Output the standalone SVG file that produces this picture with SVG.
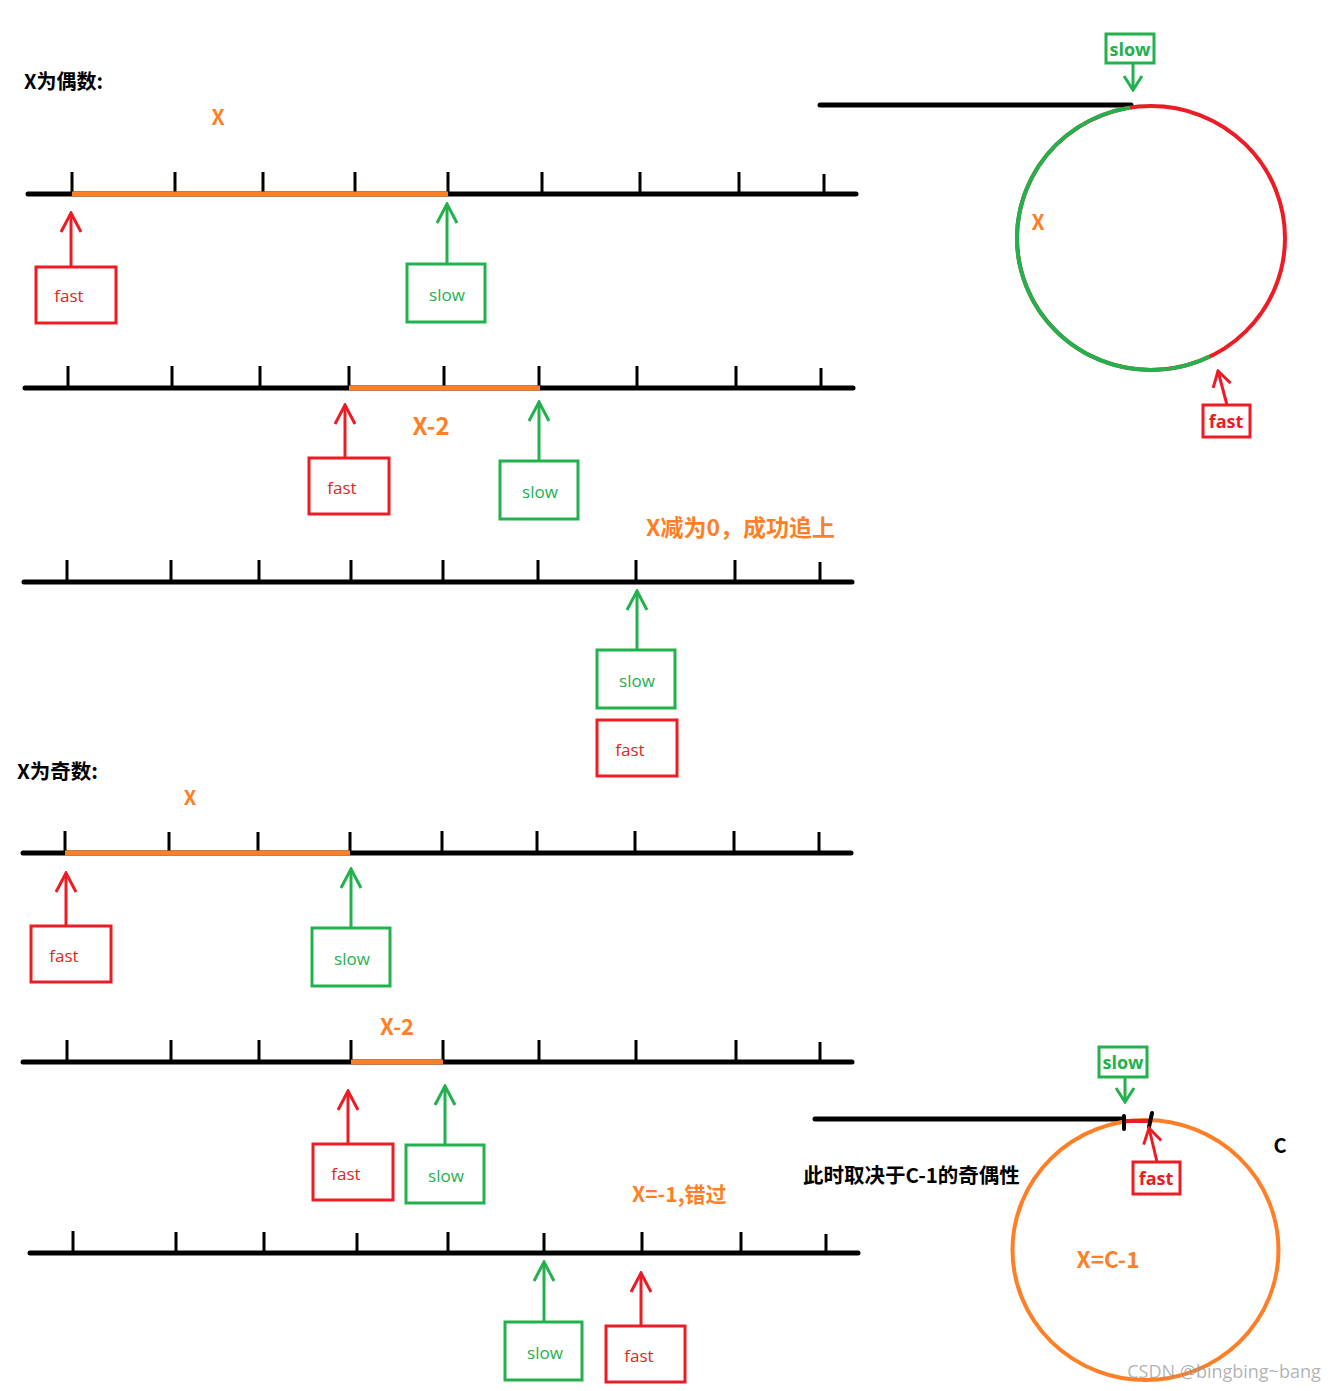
<svg xmlns="http://www.w3.org/2000/svg" width="1335" height="1391" viewBox="0 0 1335 1391">
<style>
.ax{stroke:#000;stroke-width:5;stroke-linecap:round;fill:none}
.tk{stroke:#000;stroke-width:3;fill:none}
.or{stroke:#FF7F27;stroke-width:5;fill:none}
.rb{fill:#fff;stroke:#ED1C24;stroke-width:3}
.gb{fill:#fff;stroke:#22B14C;stroke-width:3}
.ra{stroke:#ED1C24;stroke-width:3;fill:none;marker-end:url(#hr)}
.ga{stroke:#22B14C;stroke-width:3;fill:none;marker-end:url(#hg)}
.ras{stroke:#ED1C24;stroke-width:3;fill:none;marker-end:url(#hrs)}
.gas{stroke:#22B14C;stroke-width:3;fill:none;marker-end:url(#hgs)}
.t{font-family:"Open Sans","Noto Sans",sans-serif;font-size:17px;text-anchor:middle}
.tb{font-family:"Open Sans","Noto Sans",sans-serif;font-size:18px;font-weight:bold;text-anchor:middle}
.r{fill:#ED1C24}
.g{fill:#22B14C}
.cj{font-family:"Noto Sans CJK SC","Noto Sans",sans-serif;font-weight:bold}
.o{fill:#FF7F27}
.k{fill:#000}
</style>
<defs>
<marker id="hr" markerUnits="userSpaceOnUse" viewBox="-22 -12 24 24" markerWidth="24" markerHeight="24" refX="0" refY="0" orient="auto"><path d="M-19,-10 L0,0 L-19,10" fill="none" stroke="#ED1C24" stroke-width="3"/></marker>
<marker id="hg" markerUnits="userSpaceOnUse" viewBox="-22 -12 24 24" markerWidth="24" markerHeight="24" refX="0" refY="0" orient="auto"><path d="M-19,-10 L0,0 L-19,10" fill="none" stroke="#22B14C" stroke-width="3"/></marker>
<marker id="hrs" markerUnits="userSpaceOnUse" viewBox="-18 -12 20 24" markerWidth="20" markerHeight="24" refX="0" refY="0" orient="auto"><path d="M-15,-9 L0,0 L-15,9" fill="none" stroke="#ED1C24" stroke-width="3"/></marker>
<marker id="hgs" markerUnits="userSpaceOnUse" viewBox="-18 -12 20 24" markerWidth="20" markerHeight="24" refX="0" refY="0" orient="auto"><path d="M-14,-9 L0,0 L-14,9" fill="none" stroke="#22B14C" stroke-width="3"/></marker>
</defs>
<rect width="1335" height="1391" fill="#fff"/>

<g id="titles">
<text class="cj k" x="24" y="89" font-size="20">X为偶数:</text>
<text class="cj o" x="218" y="125" font-size="21" text-anchor="middle">X</text>
<text class="cj o" x="431" y="435" font-size="24" text-anchor="middle">X-2</text>
<text class="cj o" x="646" y="536" font-size="23">X减为0，成功追上</text>
<text class="cj k" x="17" y="779" font-size="20.5">X为奇数:</text>
<text class="cj o" x="190" y="805" font-size="20" text-anchor="middle">X</text>
<text class="cj o" x="397" y="1035" font-size="22" text-anchor="middle">X-2</text>
<text class="cj o" x="632" y="1202" font-size="21">X=-1,错过</text>
<text class="cj k" x="803" y="1183" font-size="20.5">此时取决于C-1的奇偶性</text>
</g>

<g id="scale1">
<line class="ax" x1="28" y1="194" x2="856" y2="194"/>
<path class="tk" d="M72,172V194M175,172V194M263,172V194M355,172V194M448,172V194M542,172V194M640,172V194M739,172V194M824,174V194"/>
<line class="or" x1="72" y1="194" x2="448" y2="194"/>
</g>
<g id="scale2">
<line class="ax" x1="25" y1="388" x2="853" y2="388"/>
<path class="tk" d="M68,366V388M172,366V388M260,366V388M349,366V388M444,366V388M539,366V388M637,366V388M736,366V388M821,368V388"/>
<line class="or" x1="349" y1="388" x2="540" y2="388"/>
</g>
<g id="scale3">
<line class="ax" x1="24" y1="582" x2="852" y2="582"/>
<path class="tk" d="M67,560V582M171,560V582M259,560V582M351,560V582M443,560V582M538,560V582M636,560V582M735,560V582M820,562V582"/>
</g>
<g id="scale4">
<line class="ax" x1="23" y1="853" x2="851" y2="853"/>
<path class="tk" d="M65,831V853M169,832V853M258,832V853M350,832V853M442,831V853M537,831V853M635,831V853M734,831V853M819,832V853"/>
<line class="or" x1="65" y1="853" x2="350" y2="853"/>
</g>
<g id="scale5">
<line class="ax" x1="23" y1="1062" x2="852" y2="1062"/>
<path class="tk" d="M67,1040V1062M171,1040V1062M259,1040V1062M351,1040V1062M443,1040V1062M539,1040V1062M636,1040V1062M736,1040V1062M820,1042V1062"/>
<line class="or" x1="351" y1="1062" x2="443" y2="1062"/>
</g>
<g id="scale6">
<line class="ax" x1="30" y1="1253" x2="858" y2="1253"/>
<path class="tk" d="M73,1231V1253M176,1232V1253M264,1232V1253M357,1233V1253M448,1232V1253M544,1233V1253M642,1232V1253M741,1232V1253M826,1234V1253"/>
</g>

<g id="ring1">
<line class="ax" x1="820" y1="105" x2="1131" y2="105"/>
<ellipse cx="1151" cy="238" rx="134" ry="132" fill="none" stroke="#ED1C24" stroke-width="4"/>
<path d="M1130,107.63 A134,132 0 1 0 1210,356.5" fill="none" stroke="#22B14C" stroke-width="4"/>
<text class="cj o" x="1038" y="230" font-size="21" text-anchor="middle">X</text>
</g>

<g id="ring2">
<line class="ax" x1="815" y1="1119" x2="1123" y2="1119"/>
<ellipse cx="1145.5" cy="1250" rx="133" ry="130" fill="none" stroke="#FF7F27" stroke-width="4"/>
<line x1="1124" y1="1121" x2="1150" y2="1121" stroke="#ED1C24" stroke-width="4"/>
<line x1="1124" y1="1116" x2="1124" y2="1129" stroke="#000" stroke-width="4" stroke-linecap="round"/>
<line x1="1152" y1="1113" x2="1149" y2="1127" stroke="#000" stroke-width="4" stroke-linecap="round"/>
<text class="cj k" x="1280" y="1153" font-size="20" text-anchor="middle">C</text>
<text class="cj o" x="1108" y="1268" font-size="22.5" text-anchor="middle">X=C-1</text>
</g>

<g id="connectors">
<line class="ra" x1="71" y1="266" x2="71" y2="213"/>
<line class="ga" x1="447" y1="264" x2="447" y2="204"/>
<line class="ra" x1="345" y1="458" x2="345" y2="405"/>
<line class="ga" x1="539" y1="461" x2="539" y2="402"/>
<line class="ga" x1="637" y1="650" x2="637" y2="591"/>
<line class="ra" x1="66" y1="926" x2="66" y2="873"/>
<line class="ga" x1="351" y1="928" x2="351" y2="869"/>
<line class="ra" x1="348" y1="1144" x2="348" y2="1091"/>
<line class="ga" x1="445" y1="1145" x2="445" y2="1086"/>
<line class="ga" x1="544" y1="1322" x2="544" y2="1262"/>
<line class="ra" x1="641" y1="1326" x2="641" y2="1273"/>
<line class="gas" x1="1133" y1="63" x2="1133" y2="90"/>
<line class="ras" x1="1227" y1="405" x2="1218" y2="371"/>
<line class="gas" x1="1125" y1="1077" x2="1125" y2="1102"/>
<line class="ras" x1="1157" y1="1162" x2="1149" y2="1128"/>
</g>

<g id="fast1"><rect class="rb" x="36" y="267" width="80" height="56"/><text class="t r" x="69" y="302">fast</text></g>
<g id="slow1"><rect class="gb" x="407" y="264" width="78" height="58"/><text class="t g" x="447" y="301">slow</text></g>
<g id="fast2"><rect class="rb" x="309" y="458" width="80" height="56"/><text class="t r" x="342" y="494">fast</text></g>
<g id="slow2"><rect class="gb" x="500" y="461" width="78" height="58"/><text class="t g" x="540" y="498">slow</text></g>
<g id="slow3"><rect class="gb" x="597" y="650" width="78" height="58"/><text class="t g" x="637" y="687">slow</text></g>
<g id="fast3"><rect class="rb" x="597" y="720" width="80" height="56"/><text class="t r" x="630" y="756">fast</text></g>
<g id="fast4"><rect class="rb" x="31" y="926" width="80" height="56"/><text class="t r" x="64" y="962">fast</text></g>
<g id="slow4"><rect class="gb" x="312" y="928" width="78" height="58"/><text class="t g" x="352" y="965">slow</text></g>
<g id="fast5"><rect class="rb" x="313" y="1144" width="80" height="56"/><text class="t r" x="346" y="1180">fast</text></g>
<g id="slow5"><rect class="gb" x="406" y="1145" width="78" height="58"/><text class="t g" x="446" y="1182">slow</text></g>
<g id="slow6"><rect class="gb" x="505" y="1322" width="77" height="58"/><text class="t g" x="545" y="1359">slow</text></g>
<g id="fast6"><rect class="rb" x="606" y="1326" width="79" height="56"/><text class="t r" x="639" y="1362">fast</text></g>
<g id="slowTop"><rect class="gb" x="1106" y="34" width="48" height="29"/><text class="tb g" x="1130" y="56">slow</text></g>
<g id="fastTop"><rect class="rb" x="1203" y="405" width="47" height="32"/><text class="tb r" x="1226" y="428">fast</text></g>
<g id="slowBottom"><rect class="gb" x="1099" y="1047" width="48" height="30"/><text class="tb g" x="1123" y="1069">slow</text></g>
<g id="fastBottom"><rect class="rb" x="1133" y="1162" width="47" height="32"/><text class="tb r" x="1156" y="1185">fast</text></g>

<text x="1224" y="1378" font-family="'Open Sans','Noto Sans',sans-serif" font-size="18" fill="#999" fill-opacity="0.75" text-anchor="middle">CSDN @bingbing~bang</text>
</svg>
